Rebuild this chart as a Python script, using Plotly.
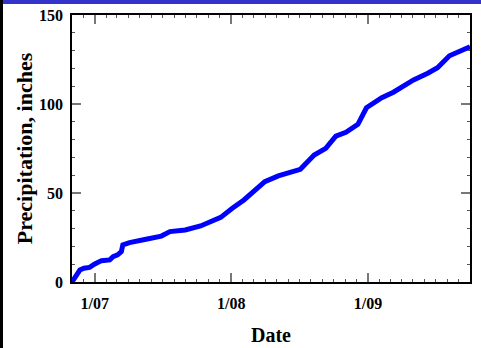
import plotly.graph_objects as go

dates = ["2006-11-01", "2006-11-10", "2006-11-22", "2006-12-03", "2006-12-18",
         "2007-01-01", "2007-01-19", "2007-02-10", "2007-02-19", "2007-03-03",
         "2007-03-13", "2007-03-17", "2007-04-04", "2007-05-18", "2007-06-28",
         "2007-07-21", "2007-08-31", "2007-10-11", "2007-12-04", "2008-01-04",
         "2008-02-04", "2008-03-31", "2008-05-06", "2008-07-04", "2008-08-10",
         "2008-09-10", "2008-10-07", "2008-11-03", "2008-12-05", "2008-12-28",
         "2009-02-07", "2009-03-10", "2009-05-03", "2009-06-10", "2009-07-06",
         "2009-08-07", "2009-09-03", "2009-10-01"]
precip = [0, 3, 6.7, 7.7, 8.2,
          10.1, 12, 12.4, 14.2, 15.2,
          17, 20.8, 22.1, 24, 25.8,
          28.3, 29.2, 31.5, 36.3, 41.4,
          46.1, 56.4, 59.6, 63.3, 71.3,
          75.1, 82, 84.1, 88.6, 97.9,
          103.5, 106.6, 113.5, 117.3, 120.4,
          127.1, 129.4, 132.2]

x_tick_vals = ["2007-01-01", "2008-01-01", "2009-01-01"]
x_tick_text = ["1/07", "1/08", "1/09"]
y_tick_vals = [0, 50, 100, 150]

FONT = "Liberation Serif, Times New Roman, serif"
W, H = 481, 348
L, R, T, B = 72, 11, 15, 66
pw, ph = W - L - R, H - T - B

fig = go.Figure()
fig.add_trace(go.Scatter(x=dates, y=precip, mode="lines",
                         line=dict(color="#0000ff", width=5),
                         showlegend=False, hoverinfo="skip"))

axis_common = dict(showline=True, linecolor="black", linewidth=1.5,
                   mirror="ticks", ticks="inside", ticklen=9, tickwidth=1.5,
                   tickcolor="#777777", showgrid=False, zeroline=False,
                   automargin=False,
                   tickfont=dict(family=FONT, size=16, color="black", weight="bold"))

fig.update_layout(
    width=W, height=H,
    margin=dict(l=L, r=R, t=T, b=B),
    paper_bgcolor="white", plot_bgcolor="white",
    xaxis=dict(range=["2006-11-01", "2009-10-01"], type="date",
               tickvals=x_tick_vals, ticktext=x_tick_text,
               minor=dict(ticks="inside", ticklen=3, tickwidth=1,
                          tickcolor="#555555", dtick="M1", tick0="2007-01-01"),
               ticklabelstandoff=6,
               title=dict(text="Date", font=dict(family=FONT, size=20, color="black", weight="bold"),
                          standoff=17),
               **axis_common),
    yaxis=dict(range=[0, 150], tickvals=y_tick_vals,
               minor=dict(ticks="inside", ticklen=3, tickwidth=1,
                          tickcolor="#555555", dtick=10),
               ticklabelstandoff=4,
               title=dict(text="Precipitation, inches",
                          font=dict(family=FONT, size=22, color="black", weight="bold"),
                          standoff=0),
               **axis_common),
    shapes=[
        dict(type="rect", xref="paper", yref="paper",
             x0=-L / pw, x1=(W - L) / pw, y0=1 + (T - 4) / ph, y1=1 + T / ph,
             fillcolor="#3333cc", line=dict(width=0), layer="above"),
        dict(type="rect", xref="paper", yref="paper",
             x0=-L / pw, x1=-(L - 3) / pw, y0=-B / ph, y1=1 + T / ph,
             fillcolor="black", line=dict(width=0), layer="above"),
    ],
)

fig.write_html("out.html", config={"displayModeBar": False},
               post_script="document.body.style.margin='0';document.body.style.overflow='hidden';")
